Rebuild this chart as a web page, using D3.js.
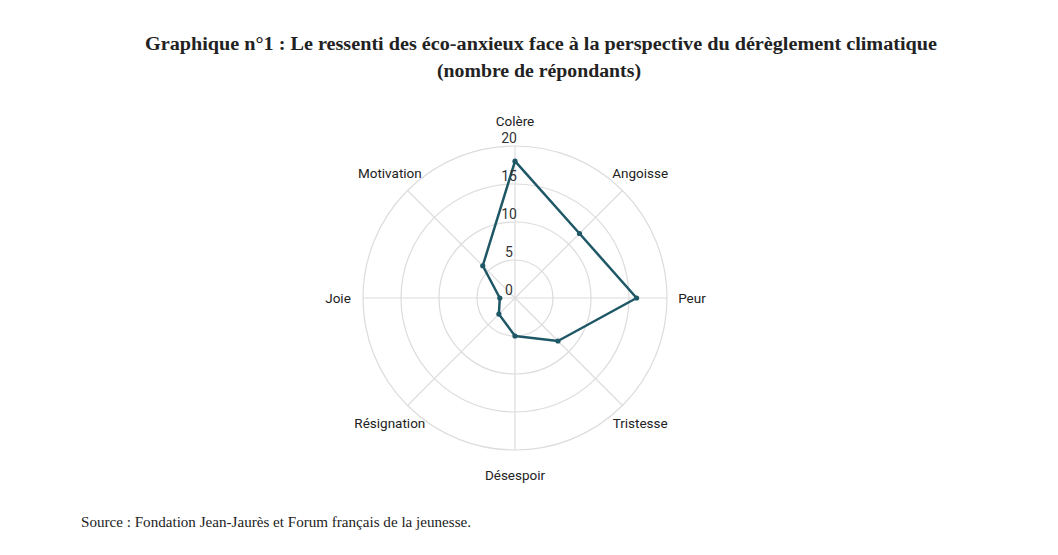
<!DOCTYPE html>
<html>
<head>
<meta charset="utf-8">
<script src="https://cdn.jsdelivr.net/npm/d3@7"></script>
<style>
  body { margin: 0; background: #fff; }
  svg { display: block; }
</style>
</head>
<body>
<div class="chart"></div>
<script>
// data
var axes = ["Colère", "Angoisse", "Peur", "Tristesse", "Désespoir", "Résignation", "Joie", "Motivation"];
var values = [18, 12, 16, 8, 5, 3, 2, 6];
var ticks = [0, 5, 10, 15, 20];

var width = 1058,
    height = 555;

var cx = 515,
    cy = 298,
    radius = 152,
    labelRadius = 177;

var svg = d3.select(".chart").append("svg")
    .attr("width", width)
    .attr("height", height);

// title
var title = svg.append("g")
    .attr("font-family", "'Liberation Serif', serif")
    .attr("font-weight", "bold")
    .attr("fill", "#222")
    .attr("text-anchor", "middle");

title.append("text")
    .attr("x", 541).attr("y", 50)
    .attr("font-size", 18)
    .attr("textLength", 792)
    .attr("lengthAdjust", "spacingAndGlyphs")
    .text("Graphique n°1 : Le ressenti des éco-anxieux face à la perspective du dérèglement climatique");

title.append("text")
    .attr("x", 539).attr("y", 77)
    .attr("font-size", 18)
    .attr("textLength", 204)
    .attr("lengthAdjust", "spacingAndGlyphs")
    .text("(nombre de répondants)");

// scales
var r = d3.scaleLinear().domain([0, 20]).range([0, radius]);
var angle = d3.scalePoint().domain(axes).range([0, 2 * Math.PI * (axes.length - 1) / axes.length]);

function px(a, d) { return cx + d * Math.sin(a); }
function py(a, d) { return cy - d * Math.cos(a); }

var g = svg.append("g");

// rings
g.selectAll("circle.ring")
    .data(ticks.filter(function(t) { return t > 0; }))
    .enter().append("circle")
    .attr("class", "ring")
    .attr("cx", cx).attr("cy", cy)
    .attr("r", function(d) { return r(d); })
    .attr("fill", "none")
    .attr("stroke", "#dcdcdc")
    .attr("stroke-width", 1.2);

// spokes
g.selectAll("line.spoke")
    .data(axes)
    .enter().append("line")
    .attr("class", "spoke")
    .attr("x1", cx).attr("y1", cy)
    .attr("x2", function(d) { return px(angle(d), radius); })
    .attr("y2", function(d) { return py(angle(d), radius); })
    .attr("stroke", "#dcdcdc")
    .attr("stroke-width", 1.2);

// axis labels
g.selectAll("text.axis")
    .data(axes)
    .enter().append("text")
    .attr("class", "axis")
    .attr("x", function(d) { return px(angle(d), labelRadius); })
    .attr("y", function(d) { return py(angle(d), labelRadius); })
    .attr("dy", "0.35em")
    .attr("text-anchor", "middle")
    .attr("font-family", "Roboto, sans-serif")
    .attr("font-size", 13.5)
    .attr("fill", "#222")
    .text(function(d) { return d; });

// data polygon
var line = d3.lineRadial()
    .angle(function(d, i) { return angle(axes[i]); })
    .radius(function(d) { return r(d); })
    .curve(d3.curveLinearClosed);

g.append("path")
    .datum(values)
    .attr("transform", "translate(" + cx + "," + cy + ")")
    .attr("d", line)
    .attr("fill", "none")
    .attr("stroke", "#1e5766")
    .attr("stroke-width", 2.5)
    .attr("stroke-linejoin", "round");

g.selectAll("circle.pt")
    .data(values)
    .enter().append("circle")
    .attr("class", "pt")
    .attr("cx", function(d, i) { return px(angle(axes[i]), r(d)); })
    .attr("cy", function(d, i) { return py(angle(axes[i]), r(d)); })
    .attr("r", 2.6)
    .attr("fill", "#1e5766");

// tick labels
g.selectAll("text.tick")
    .data(ticks)
    .enter().append("text")
    .attr("class", "tick")
    .attr("x", cx - 6)
    .attr("y", function(d) { return cy - r(d) - 8; })
    .attr("dy", "0.35em")
    .attr("text-anchor", "middle")
    .attr("font-family", "Roboto, sans-serif")
    .attr("font-size", 14)
    .attr("fill", "#333")
    .text(function(d) { return d; });

// source
svg.append("text")
    .attr("x", 81).attr("y", 527)
    .attr("font-family", "'Liberation Serif', serif")
    .attr("font-size", 14.5)
    .attr("fill", "#222")
    .attr("textLength", 390)
    .attr("lengthAdjust", "spacingAndGlyphs")
    .text("Source : Fondation Jean-Jaurès et Forum français de la jeunesse.");
</script>
</body>
</html>
